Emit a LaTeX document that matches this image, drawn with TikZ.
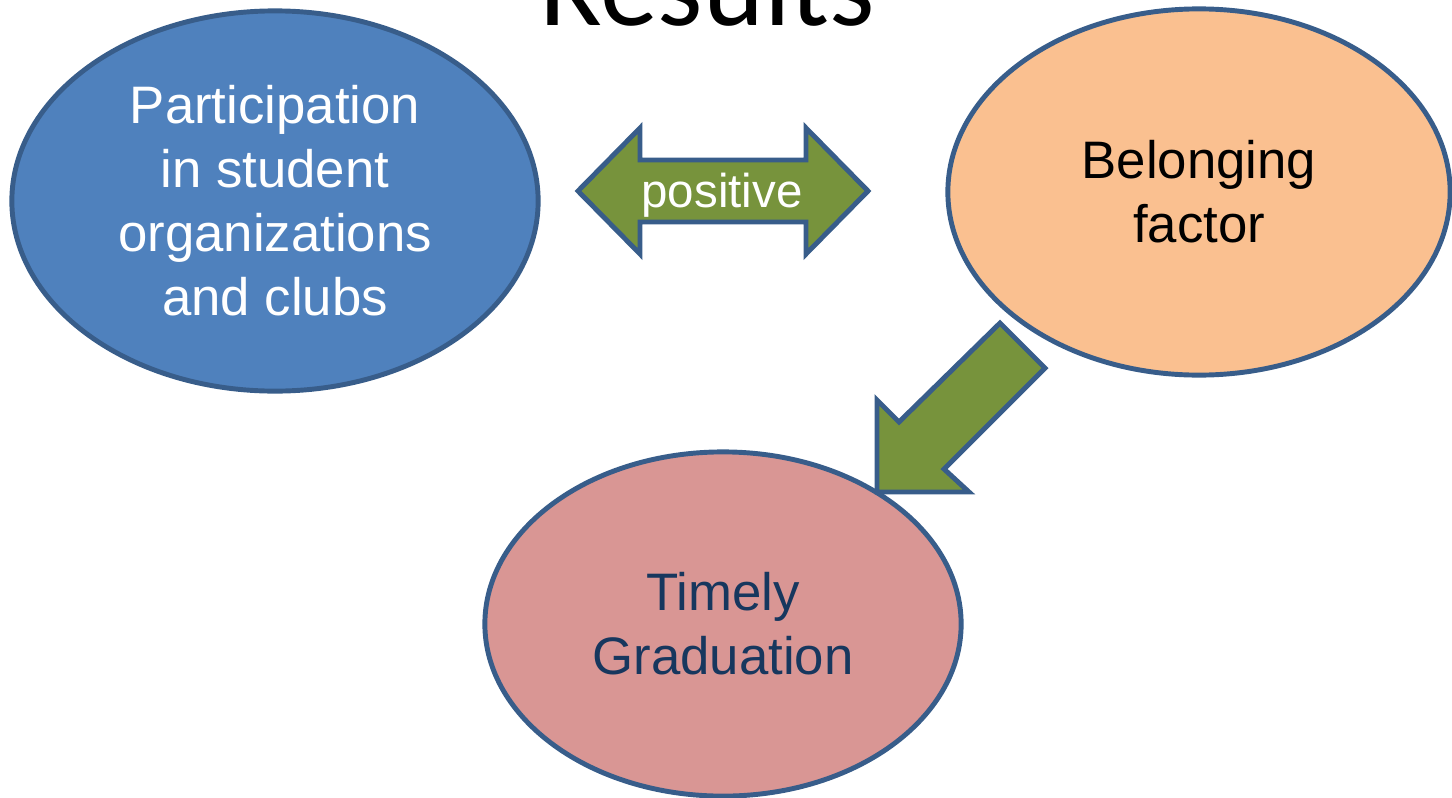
\documentclass[tikz,border=0pt]{standalone}
\usepackage{fontspec}
\setmainfont{Liberation Sans}
\newfontfamily\titlefont{Carlito}
\usetikzlibrary{shapes.geometric}

\definecolor{edgeblue}{HTML}{385D8A}
\definecolor{clubblue}{HTML}{4F81BD}
\definecolor{belongorange}{HTML}{FAC090}
\definecolor{gradpink}{HTML}{D99694}
\definecolor{arrowgreen}{HTML}{77933C}
\definecolor{gradtext}{HTML}{17375E}

\tikzset{
  bubble/.style={ellipse, draw=edgeblue, line width=1.4pt, inner sep=0pt, align=center,
    font=\fontsize{15pt}{18.2pt}\selectfont},
  blockarrow/.style={draw=edgeblue, fill=arrowgreen, line width=1.4pt, line join=miter}
}

\begin{document}
\begin{tikzpicture}[x=0.01cm, y=-0.01cm]
	\clip (0,0) rectangle (1452,797);
	\useasboundingbox (0,0) rectangle (1452,797);

	\node[anchor=base, font=\titlefont\fontsize{33pt}{40pt}\selectfont] (title) at (707,25) {Results};

	\node[bubble, fill=clubblue, text=white, minimum width=5.26cm, minimum height=3.80cm] (clubs) at (275,201)
		{Participation\\in student\\organizations\\and clubs};
	\node[bubble, fill=belongorange, text=black, minimum width=5.02cm, minimum height=3.66cm] (belong) at (1199,192)
		{Belonging\\factor};
	\node[bubble, fill=gradpink, text=gradtext, minimum width=4.76cm, minimum height=3.44cm] (grad) at (723,624)
		{Timely\\Graduation};

	\draw[blockarrow] (578,191) -- (640,128) -- (640,160) -- (806,160) -- (806,128) -- (868,191)
		-- (806,254) -- (806,222) -- (640,222) -- (640,254) -- cycle;
	\node[text=white, font=\fontsize{13.5pt}{16pt}\selectfont] (positive) at (722,195) {positive};

	\draw[blockarrow] (1000,323) -- (1045,368) -- (944,469) -- (969,492) -- (877,492)
		-- (877,400) -- (899,422) -- cycle;
\end{tikzpicture}
\end{document}
